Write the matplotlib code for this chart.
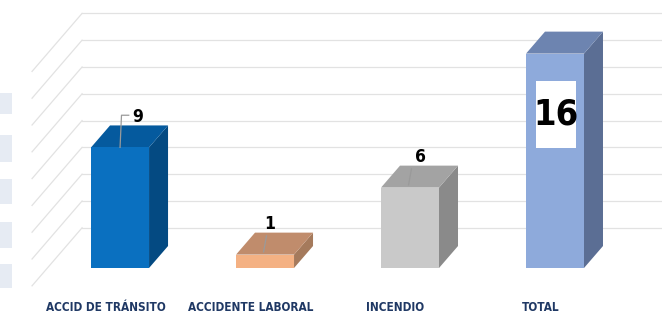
import matplotlib.pyplot as plt
from matplotlib.patches import Rectangle, Polygon

# data
categories = ['ACCID DE TRÁNSITO', 'ACCIDENTE LABORAL', 'INCENDIO', 'TOTAL']
values = [9, 1, 6, 16]
grid_values = [2, 4, 6, 8, 10, 12, 14, 16, 18]

front_colors = ['#0a70c0', '#f4b183', '#c9c9c9', '#8eaadb']
top_colors = ['#055a9e', '#c08c6c', '#a3a3a3', '#6d84b0']
side_colors = ['#044a82', '#a57a5c', '#8a8a8a', '#5b6e94']

fnt = dict(family='DejaVu Sans', stretch='condensed')

fig = plt.figure(figsize=(6.62, 3.19), dpi=100)
ax = fig.add_axes([0, 0, 1, 1])
# x: category index (145 px apart), y: value (13.4 px per unit)
ax.set_xlim(-0.828, 3.738)
ax.set_ylim(-3.806, 20.0)
ax.axis('off')

# cut-off table on the left edge
for y0, y1 in [(93, 114), (135, 162), (179, 204), (222, 248), (264, 288)]:
    fig.patches.append(Rectangle((0, 1 - y1 / 319), 12 / 662, (y1 - y0) / 319,
                                 transform=fig.transFigure, fc='#e6ebf3',
                                 ec='none'))

# perspective gridlines (back wall + left wall)
wall_dy = 1.0
x_wall = -0.262
for g in grid_values:
    yb = g + wall_dy
    ax.plot([x_wall, 3.74], [yb, yb], color='#e2e2e2', lw=0.9, zorder=1)
    ax.plot([x_wall, x_wall - 0.345], [yb, yb - 4.33], color='#e2e2e2',
            lw=0.9, zorder=1)

w = 0.4
dx, dy = 0.131, 1.64
for i, v in enumerate(values):
    l, r = i - w / 2, i + w / 2
    ax.add_patch(Polygon([(r, 0), (r + dx, dy), (r + dx, v + dy), (r, v)],
                         closed=True, fc=side_colors[i], ec='none', zorder=3))
    ax.add_patch(Polygon([(l, v), (r, v), (r + dx, v + dy), (l + dx, v + dy)],
                         closed=True, fc=top_colors[i], ec='none', zorder=3))
    ax.add_patch(Rectangle((l, 0), w, v, fc=front_colors[i], ec='none',
                           zorder=4))
    ax.text(i - 0.1, -2.95, categories[i], ha='center', va='center',
            fontsize=8.5, color='#1f3864', fontweight='bold', **fnt)

# data labels
lab_dx = [0.12, 0.035, 0.07]
for i, v in enumerate(values[:3]):
    if i == 0:
        ax.plot([i, i + 0.01, i + 0.06], [v, v + 2.4, v + 2.4],
                color='#9a9a9a', lw=0.9, zorder=5)
    else:
        ax.plot([i - 0.01, i + 0.01], [v + 0.2, v + 1.4],
                color='#9a9a9a', lw=0.9, zorder=5)
    ax.text(i + lab_dx[i], v + 2.3, str(v), ha='center', va='center',
            fontsize=12.5, fontweight='bold', color='black', zorder=6, **fnt)

t = len(values) - 1
ax.add_patch(Rectangle((t + 0.005 - 0.138, values[t] - 7.05), 0.276, 5.0,
                       fc='white', ec='none', zorder=5))
ax.text(t + 0.005, values[t] - 4.55, str(values[t]), ha='center', va='center',
        fontsize=26, fontweight='bold', color='black', zorder=6, **fnt)

fig.savefig('out.png', dpi=100)
